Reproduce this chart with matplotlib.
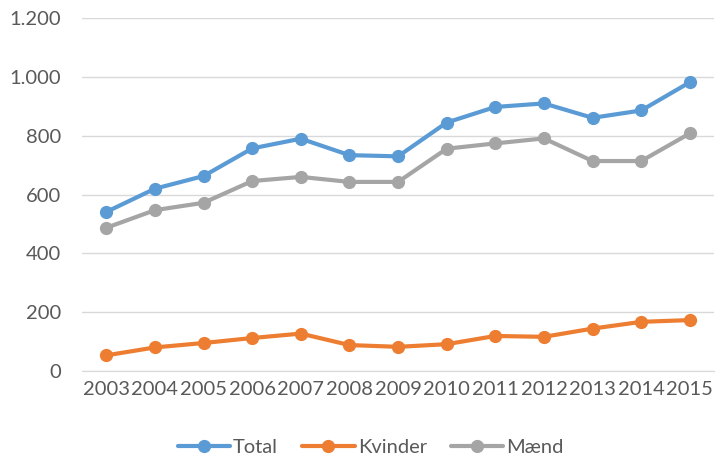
import matplotlib
matplotlib.use("Agg")
import matplotlib.pyplot as plt
from matplotlib.ticker import FuncFormatter

years = ["2003", "2004", "2005", "2006", "2007", "2008", "2009", "2010", "2011", "2012", "2013", "2014", "2015"]
total = [541, 620, 663, 757, 790, 734, 730, 845, 898, 910, 861, 886, 982]
kvinder = [53, 80, 95, 112, 127, 88, 82, 91, 119, 116, 144, 167, 173]
maend = [487, 547, 572, 646, 660, 643, 643, 756, 774, 791, 714, 714, 808]
yticks = [0, 200, 400, 600, 800, 1000, 1200]

plt.rcParams['font.family'] = ['Lato', 'DejaVu Sans']
fig = plt.figure(figsize=(7.17, 4.66), dpi=100)
ax = fig.add_axes([0.1144, 0.204, 0.8816, 0.757])

x = list(range(len(years)))
series = [("Total", total, "#5B9BD5"), ("Kvinder", kvinder, "#ED7D31"), ("Mænd", maend, "#A5A5A5")]
for name, vals, col in series:
    ax.plot(x, vals, color=col, lw=3, marker='o', ms=8.5, label=name, solid_capstyle='round', zorder=3)

ax.set_xlim(-0.5, len(years) - 0.5)
ax.set_ylim(0, 1200)
ax.set_yticks(yticks)
ax.yaxis.set_major_formatter(FuncFormatter(lambda v, p: f"{int(v):,}".replace(",", ".")))
ax.set_xticks(x)
ax.set_xticklabels(years)
ax.grid(axis='y', color='#D9D9D9', lw=1)
ax.set_axisbelow(True)
for s in ['top', 'right', 'left']:
    ax.spines[s].set_visible(False)
ax.spines['bottom'].set_color('#D9D9D9')
ax.tick_params(axis='both', length=0, labelsize=14.5, colors='#595959')
ax.tick_params(axis='y', pad=15)
ax.tick_params(axis='x', pad=7)

leg = fig.legend(loc='center', bbox_to_anchor=(0.517, 0.04), ncol=3, frameon=False,
                 fontsize=14.5, handlelength=2.6, columnspacing=1.2, handletextpad=0.15, labelcolor='#595959')
fig.savefig("out.png", dpi=100)
